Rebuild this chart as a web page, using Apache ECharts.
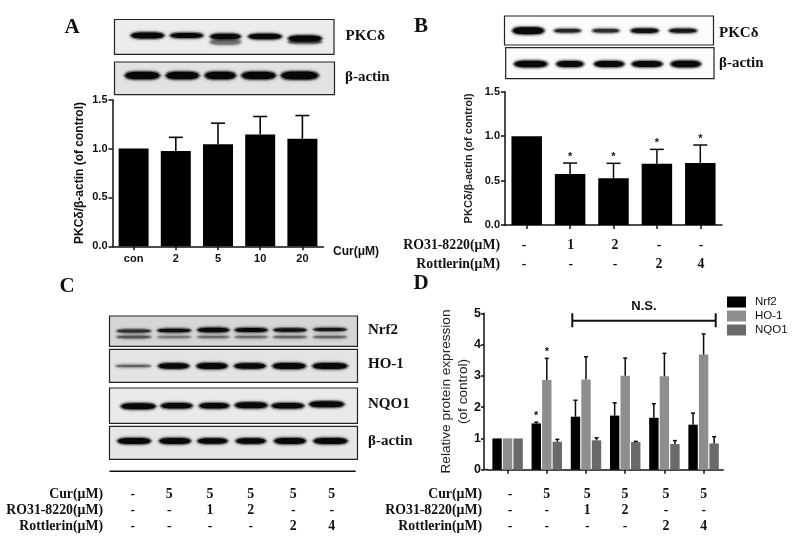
<!DOCTYPE html>
<html>
<head>
<meta charset="utf-8">
<style>
html,body{margin:0;padding:0;background:#fff}
#chart{width:800px;height:538px;filter:blur(0.45px)}
</style>
<script src="https://cdn.jsdelivr.net/npm/echarts@6/dist/echarts.min.js"></script>
</head>
<body>
<div id="chart"></div>
<script>
// ---------- Data ----------
const catsA = ['con', '2', '5', '10', '20'];
const valuesA = [1.0, 0.975, 1.045, 1.145, 1.10];
const errTopA = [null, 1.115, 1.26, 1.328, 1.338];

const catsB = ['a', 'b', 'c', 'd', 'e'];
const valuesB = [1.0, 0.575, 0.525, 0.69, 0.697];
const errTopB = [null, 0.697, 0.694, 0.851, 0.90];
const starsB = [false, true, true, true, true];

const catsD = ['a', 'b', 'c', 'd', 'e', 'f'];
const nrf2 = [1.0, 1.48, 1.695, 1.73, 1.66, 1.44];
const ho1 = [1.0, 2.87, 2.88, 3.0, 2.985, 3.68];
const nqo1 = [1.0, 0.895, 0.94, 0.885, 0.82, 0.84];
const nrf2Err = [null, 1.52, 2.22, 2.14, 2.11, 1.81];
const ho1Err = [null, 3.56, 3.61, 3.57, 3.72, 4.34];
const nqo1Err = [null, 0.97, 1.02, 0.906, 0.93, 1.055];

const rowsB = [['RO31-8220(μM)', '-', '1', '2', '-', '-'], ['Rottlerin(μM)', '-', '-', '-', '2', '4']];
const rowsCD = [
  ['Cur(μM)', '-', '5', '5', '5', '5', '5'],
  ['RO31-8220(μM)', '-', '-', '1', '2', '-', '-'],
  ['Rottlerin(μM)', '-', '-', '-', '-', '2', '4']
];

// band strength per lane: [thickness, darkness 0..1]
const bandsPkcA = [[6, 1], [5, 1], [5.5, 1], [5.5, 1], [6, 1]];
const bandsActinA = [[7.5, 1], [7.5, 1], [7.5, 1], [7.5, 1], [8, 1]];
const bandsPkcB = [[7, 1], [3.5, .8], [3.5, .75], [4.5, .95], [4, .9]];
const bandsActinB = [[6.5, 1], [6, 1], [6, 1], [6, 1], [6.5, 1]];
const bandsNrf2 = [[3, .75], [3.5, .95], [4.5, 1], [4, 1], [3.5, .95], [3, .9]];
const bandsNrf2Low = [[2.5, .5], [2, .25], [2, .35], [2, .35], [2, .4], [2, .4]];
const bandsHo1 = [[2, .4], [5.5, 1], [6, 1], [5.5, 1], [6, 1], [6, 1]];
const bandsNqo1 = [[6, 1], [5.5, 1], [5.5, 1], [6, 1], [5.5, 1], [6, 1]];
const bandsActinC = [[6, 1], [6, 1], [5.5, 1], [5.5, 1], [6, 1], [6, 1]];

// ---------- Helpers ----------
const SERIF = '"Liberation Serif", serif';
const SANS = '"Liberation Sans", sans-serif';
const g = [];

function text(x, y, s, size, font, bold, align) {
  g.push({type: 'text', silent: true, x, y, style: {
    text: s, fontFamily: font, fontSize: size, fontWeight: bold ? 'bold' : 'normal',
    fill: '#111', align: align || 'center', verticalAlign: 'middle'}});
}
// tapered, soft-edged blot band outline
function lens(x0, x1, cy, th) {
  const top = [], bottom = [];
  const n = 14;
  for (let k = 0; k <= n; k++) {
    const t = k / n;
    const h = th / 2 * Math.sqrt(Math.max(0, 1 - Math.pow(Math.abs(2 * t - 1), 3.5)));
    const x = x0 + (x1 - x0) * t;
    top.push([x, cy - h]);
    bottom.unshift([x, cy + h]);
  }
  return top.concat(bottom);
}
function blot(x0, x1, y0, y1, bg, laneXs, rows) {
  g.push({type: 'rect', silent: true, shape: {x: x0, y: y0, width: x1 - x0, height: y1 - y0},
    style: {fill: bg, stroke: '#222', lineWidth: 1.2}});
  rows.forEach(row => {
    row.bands.forEach((b, i) => {
      if (!b[0]) return;
      const shade = Math.round(150 * (1 - b[1]) + 8);
      const col = 'rgb(' + shade + ',' + shade + ',' + shade + ')';
      const lane = laneXs[i];
      const cy = row.y + ((row.dy && row.dy[i]) || 0);
      g.push({type: 'polygon', silent: true, shape: {points: lens(lane[0] - 1, lane[1] + 1, cy, b[0] + 2.6)},
        style: {fill: col, opacity: .35, shadowColor: col, shadowBlur: 3}});
      g.push({type: 'polygon', silent: true, shape: {points: lens(lane[0] + 1, lane[1] - 1, cy, b[0])},
        style: {fill: col}});
    });
  });
}
function table(rows, labelX, ys, xs) {
  rows.forEach((row, r) => {
    text(labelX, ys[r], row[0], 13.8, SERIF, true, 'right');
    row.slice(1).forEach((v, i) => text(xs[i], ys[r], v, 13.8, SERIF, true));
  });
}
function lanes(spans, x0) { return spans.map(s => [x0 + s[0] / 3, x0 + s[1] / 3]); }

// ---------- Blots ----------
blot(114.5, 334, 19.5, 54.3, '#ececec', lanes([[240,345],[358,462],[478,575],[592,698],[712,818]], 50), [
  {y: 42, bands: [[0,0],[0,0],[5,.3],[0,0],[3,.4]]},
  {y: 35.5, bands: bandsPkcA, dy: [0, 0, 1, 1, 3]}
]);
blot(114.5, 334.5, 62, 94.7, '#e2e2e2', lanes([[222,332],[345,450],[462,560],[572,680],[690,808]], 50), [
  {y: 75.5, bands: bandsActinA}
]);
blot(504.5, 713.5, 16, 45, '#fbfbfb', lanes([[335,435],[460,545],[575,660],[690,778],[805,893]], 400), [
  {y: 30.7, bands: bandsPkcB}
]);
blot(505.7, 714, 47.7, 78.7, '#fbfbfb', lanes([[340,445],[467,553],[580,675],[693,790],[810,905]], 400), [
  {y: 64, bands: bandsActinB}
]);
blot(109.5, 357.5, 316, 346.3, '#d6d6d6', lanes([[198,305],[320,425],[440,540],[552,655],[668,772],[788,892]], 50), [
  {y: 330.5, bands: bandsNrf2, dy: [.5, 0, -.5, -.5, -.5, -1]},
  {y: 337, bands: bandsNrf2Low}
]);
blot(109.5, 357.5, 349.3, 382.3, '#e4e4e4', lanes([[195,305],[322,420],[437,535],[550,650],[665,770],[785,895]], 50), [
  {y: 366, bands: bandsHo1}
]);
blot(109.5, 357.5, 388, 423.3, '#eaeaea', lanes([[210,320],[330,430],[445,540],[552,655],[662,765],[775,885]], 50), [
  {y: 405.8, bands: bandsNqo1, dy: [.5, 0, 0, -.5, 0, -1.5]}
]);
blot(109.5, 357.5, 426.3, 459.3, '#e6e6e6', lanes([[200,305],[325,425],[440,535],[555,650],[670,770],[788,895]], 50), [
  {y: 441, bands: bandsActinC}
]);
g.push({type: 'line', silent: true, shape: {x1: 109.5, y1: 471.3, x2: 355.7, y2: 471.3}, style: {stroke: '#111', lineWidth: 1.5}});

// ---------- Text ----------
text(72, 28, 'A', 21, SERIF, true);
text(421, 27, 'B', 21, SERIF, true);
text(67, 287, 'C', 21, SERIF, true);
text(421, 284, 'D', 21, SERIF, true);

text(345.5, 36, 'PKCδ', 15, SERIF, true, 'left');
text(345, 77, 'β-actin', 15, SERIF, true, 'left');
text(719, 33, 'PKCδ', 15, SERIF, true, 'left');
text(719, 63, 'β-actin', 15, SERIF, true, 'left');
text(368, 330.5, 'Nrf2', 15, SERIF, true, 'left');
text(368, 364, 'HO-1', 15, SERIF, true, 'left');
text(368, 404, 'NQO1', 15, SERIF, true, 'left');
text(368, 441, 'β-actin', 15, SERIF, true, 'left');

text(333, 252, 'Cur(μM)', 12, SANS, true, 'left');

table(rowsB, 500, [245, 264], [524, 570.7, 615, 659, 701]);
table(rowsCD, 103, [494, 510, 526], [132.7, 169.3, 210, 250.7, 293.3, 331.7]);
table(rowsCD, 482, [494, 510, 526], [510, 546.7, 587.3, 625, 666, 703.7]);

// N.S. bracket
g.push({type: 'polyline', silent: true, shape: {points: [[572.3, 313.3], [572.3, 327.3], [572.3, 320.7], [715.7, 320.7], [715.7, 313.3], [715.7, 327.3]]},
  style: {stroke: '#111', lineWidth: 2, fill: null}});
text(644, 306, 'N.S.', 13, SANS, true);
// x-axis stub joining the detached y axis of panel D
g.push({type: 'line', silent: true, shape: {x1: 484, y1: 469.7, x2: 488, y2: 469.7}, style: {stroke: '#111', lineWidth: 1.5}});

// ---------- Chart pieces ----------
const axisLine = {show: true, onZero: false, lineStyle: {color: '#111', width: 1.5}};
const axisTick = {show: true, length: 4, lineStyle: {color: '#111', width: 1.5}};

function xAxis(i, cats, labels) {
  return {type: 'category', gridIndex: i, data: cats, axisLine, axisTick: {...axisTick, alignWithLabel: true},
    axisLabel: labels ? {fontFamily: SANS, fontWeight: 'bold', fontSize: 11, color: '#111', margin: 7, interval: 0} : {show: false}};
}
function yAxis(i, max, interval, name, gap, opts) {
  return Object.assign({type: 'value', gridIndex: i, min: 0, max, interval, name, nameLocation: 'middle', nameGap: gap,
    nameMoveOverlap: false,
    nameTextStyle: {fontFamily: SANS, fontWeight: 'bold', fontSize: 12, color: '#111'},
    axisLine, axisTick, splitLine: {show: false},
    axisLabel: {fontFamily: SANS, fontWeight: 'bold', fontSize: 11, color: '#111', margin: 5,
      formatter: v => interval < 1 ? v.toFixed(1) : String(v)}}, opts || {});
}
function errSeries(i, tops, baseVals, capHalf, lineW, offset, stars) {
  return {
    type: 'custom', xAxisIndex: i, yAxisIndex: i, silent: true, z: 5, clip: false,
    data: tops.map((t, k) => [k, baseVals[k], t, stars ? (stars[k] ? 1 : 0) : 0]),
    encode: {x: 0, y: [1, 2]},
    renderItem(params, api) {
      const k = api.value(0), base = api.value(1), top = api.value(2);
      const star = api.value(3);
      if (top == null || isNaN(top)) return {type: 'group', children: []};
      const band = api.size([1, 0])[0];
      const dx = offset * band;
      const p0 = api.coord([k, base]), p1 = api.coord([k, top]);
      const x = p0[0] + dx;
      const st = {stroke: '#0a0a0a', lineWidth: lineW, fill: null};
      const children = [
        {type: 'line', shape: {x1: x, y1: p0[1], x2: x, y2: p1[1]}, style: st},
        {type: 'line', shape: {x1: x - capHalf, y1: p1[1], x2: x + capHalf, y2: p1[1]}, style: st}
      ];
      if (star) children.push({type: 'text', x, y: p1[1] - 6, style: {text: '*', fontFamily: SANS, fontSize: 11, fontWeight: 'bold', fill: '#111', align: 'center', verticalAlign: 'middle'}});
      return {type: 'group', children};
    }
  };
}

const spacing = 0.269; // grouped-bar offset as a share of a category band

const option = {
  animation: false,
  backgroundColor: '#fff',
  tooltip: {show: false},
  graphic: {elements: g},
  grid: [
    {left: 112.5, top: 99.7, width: 211, height: 146.6},
    {left: 505, top: 91.7, width: 217, height: 133.3},
    {left: 488, top: 313.3, width: 235.2, height: 156.4}
  ],
  xAxis: [xAxis(0, catsA, true), xAxis(1, catsB, false), xAxis(2, catsD, false)],
  yAxis: [
    yAxis(0, 1.5, 0.5, 'PKCδ/β-actin (of control)', 27),
    yAxis(1, 1.5, 0.5, 'PKCδ/β-actin (of control)', 31, {nameTextStyle: {fontFamily: SANS, fontWeight: 'bold', fontSize: 11, color: '#222'}}),
    yAxis(2, 5, 1, 'Relative protein expression\n(of control)', 12, {
      offset: 4,
      axisTick: {show: true, length: 3, lineStyle: {color: '#111', width: 1.5}},
      nameTextStyle: {fontFamily: SANS, fontWeight: 'normal', fontSize: 13.6, color: '#222', lineHeight: 17},
      axisLabel: {fontFamily: SANS, fontWeight: 'bold', fontSize: 12.5, color: '#111', margin: 3}
    })
  ],
  legend: {
    data: ['Nrf2', 'HO-1', 'NQO1'], left: 727, top: 296, orient: 'vertical', itemWidth: 19, itemHeight: 11, itemGap: 2, icon: 'rect',
    textStyle: {fontFamily: SANS, fontSize: 11.5, color: '#111', padding: [0, 0, 0, 4]}, padding: 0, selectedMode: false
  },
  series: [
    {type: 'bar', xAxisIndex: 0, yAxisIndex: 0, data: valuesA, barWidth: 30, itemStyle: {color: '#000'}, silent: true},
    errSeries(0, errTopA, valuesA, 7, 1.6, 0),
    {type: 'bar', xAxisIndex: 1, yAxisIndex: 1, data: valuesB, barWidth: 30.5, itemStyle: {color: '#000'}, silent: true},
    errSeries(1, errTopB, valuesB, 7, 1.5, 0, starsB),
    {name: 'Nrf2', type: 'bar', xAxisIndex: 2, yAxisIndex: 2, data: nrf2, barWidth: 9.4, barGap: '12%', itemStyle: {color: '#000'}, silent: true},
    {name: 'HO-1', type: 'bar', xAxisIndex: 2, yAxisIndex: 2, data: ho1, barWidth: 9.4, barGap: '12%', itemStyle: {color: '#8e8e8e'}, silent: true},
    {name: 'NQO1', type: 'bar', xAxisIndex: 2, yAxisIndex: 2, data: nqo1, barWidth: 9.4, barGap: '12%', itemStyle: {color: '#6a6a6a'}, silent: true},
    errSeries(2, nrf2Err, nrf2, 2, 1.5, -spacing, [false, true, false, false, false, false]),
    errSeries(2, ho1Err, ho1, 2, 1.5, 0, [false, true, false, false, false, false]),
    errSeries(2, nqo1Err, nqo1, 2, 1.5, spacing)
  ]
};
const chart = echarts.init(document.getElementById('chart'), null, {renderer: 'canvas'});
chart.setOption(option);
</script>
</body>
</html>
